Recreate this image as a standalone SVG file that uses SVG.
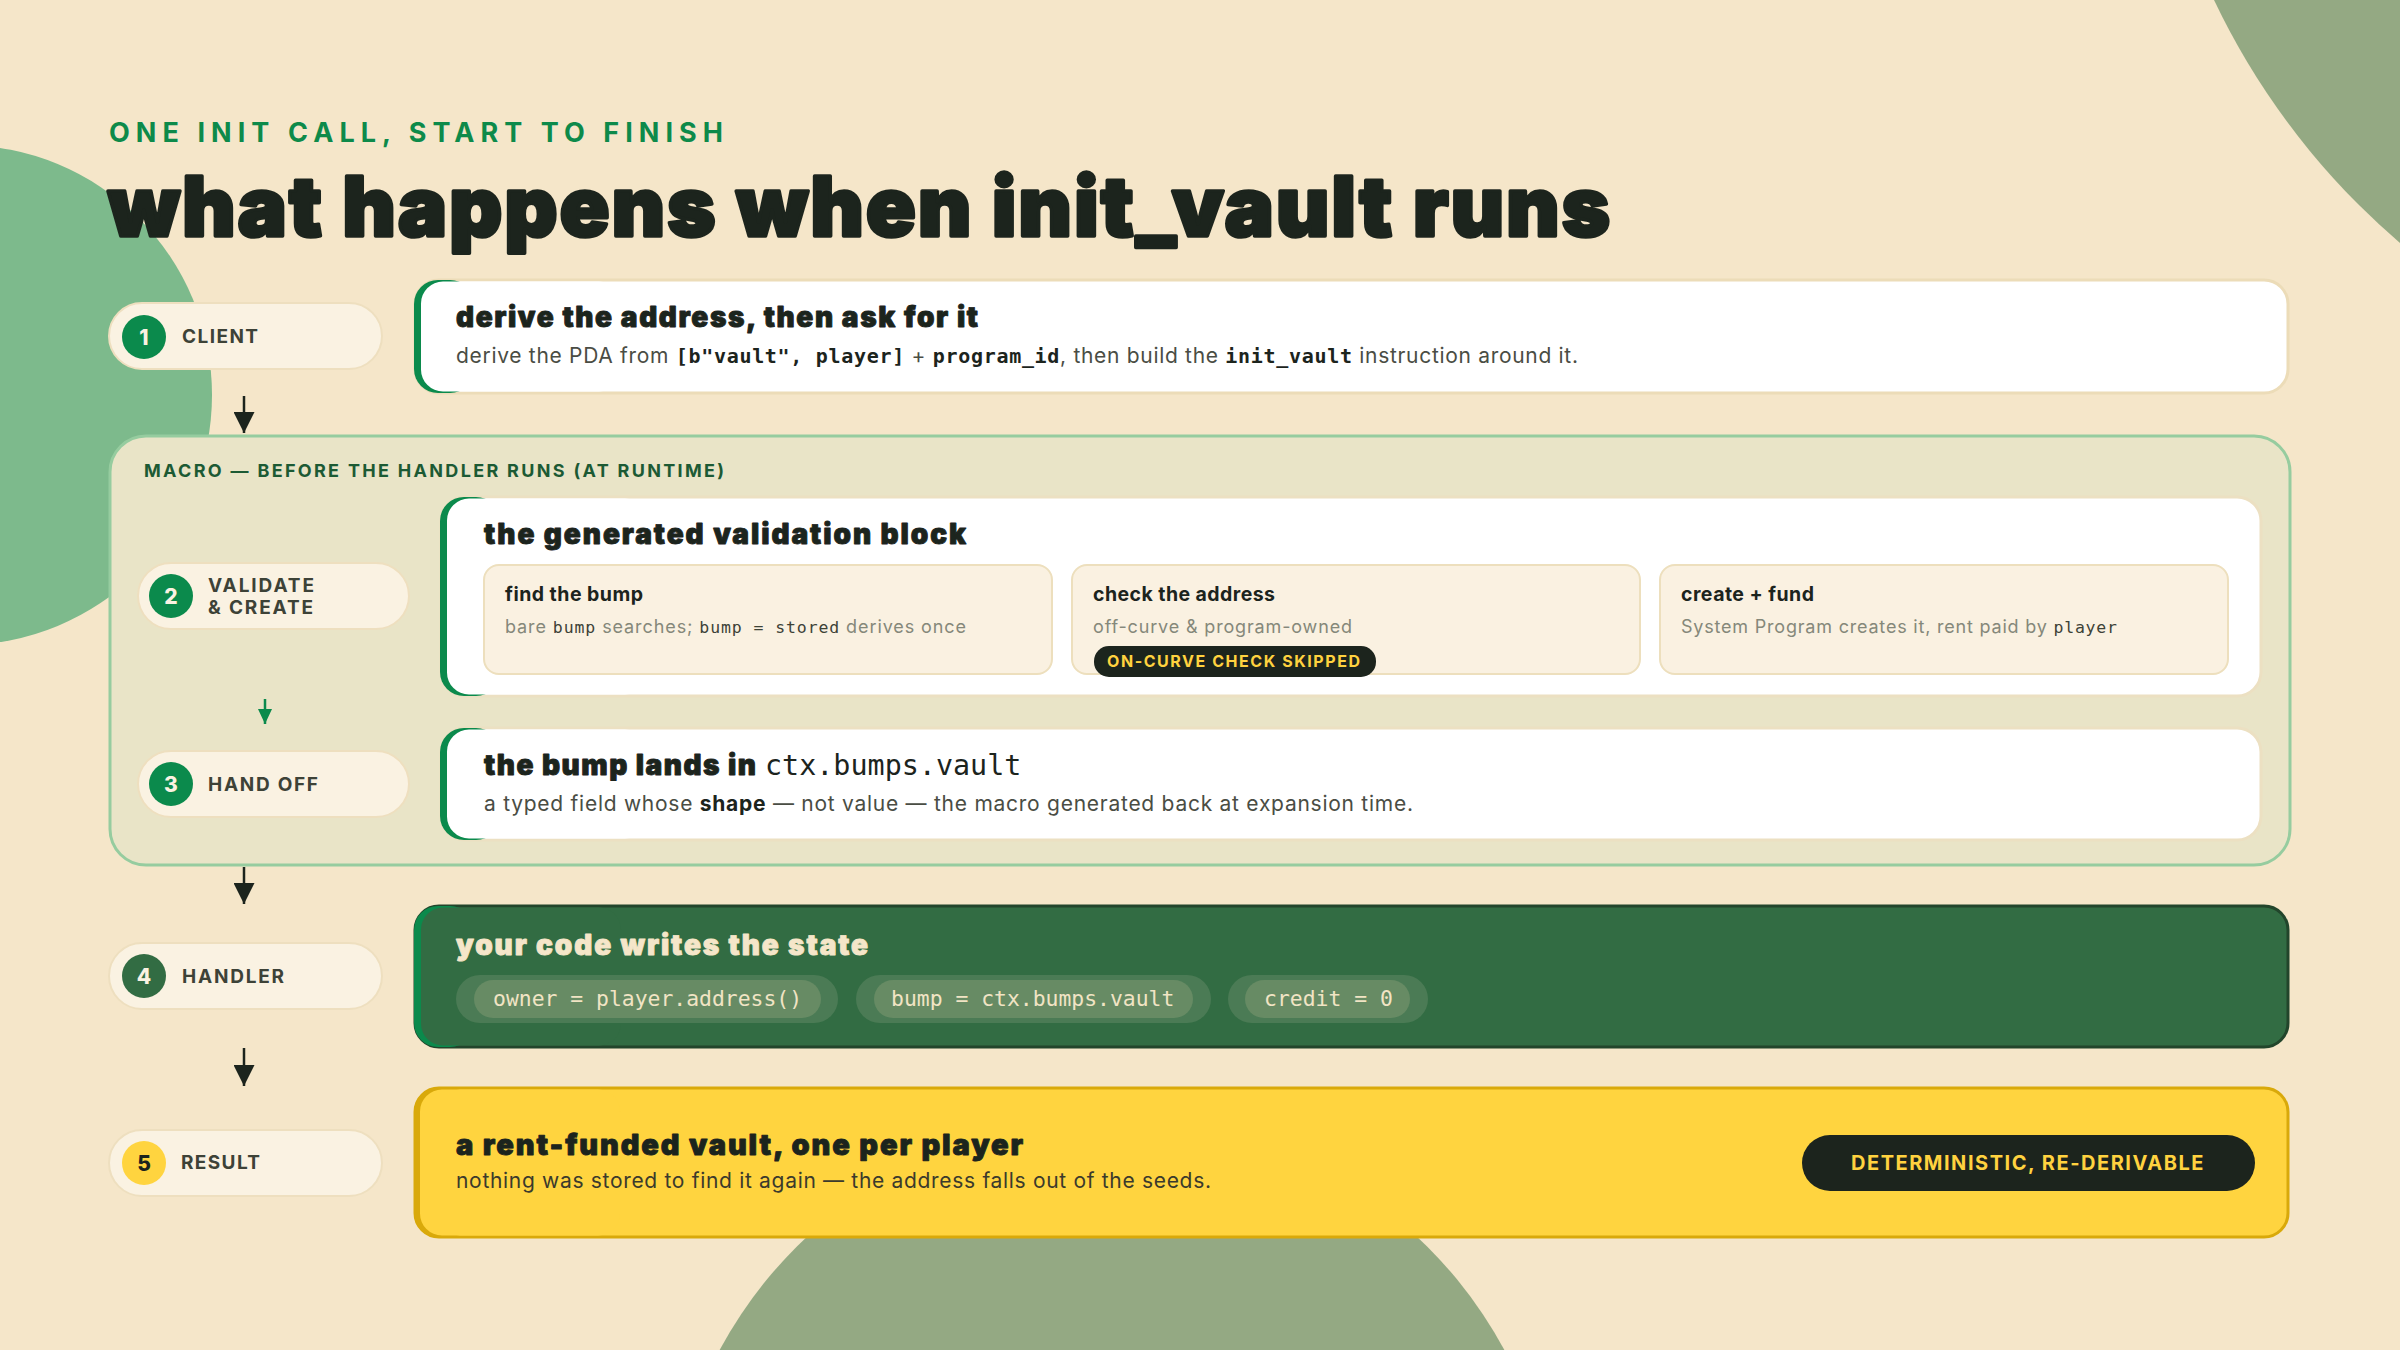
<svg xmlns="http://www.w3.org/2000/svg" width="2400" height="1350" viewBox="0 0 2400 1350">
<defs>
<style>
.sans{font-family:Inter,"Liberation Sans",sans-serif}
.mono{font-family:"DejaVu Sans Mono","Liberation Mono",monospace}
.h{font-family:Inter,"Liberation Sans",sans-serif;font-weight:900;fill:#1c241d;stroke:#1c241d;stroke-width:0.9px;stroke-linejoin:round}
.pilltxt{font-family:Inter,"Liberation Sans",sans-serif;font-weight:700;font-size:19px;letter-spacing:3px;fill:#3d4237}
.pill{fill:#faf2e2;stroke:#eedfbf;stroke-width:2}
.num{font-family:Inter,"Liberation Sans",sans-serif;font-weight:800;font-size:21px;text-anchor:middle}
.sub{fill:#faf1e1;stroke:#eddfbd;stroke-width:2}
.subh{font-family:Inter,"Liberation Sans",sans-serif;font-weight:700;font-size:19.5px;fill:#1c241d}
.subt{font-family:Inter,"Liberation Sans",sans-serif;font-size:18px;fill:#85887a}
.subm{font-family:"DejaVu Sans Mono","Liberation Mono",monospace;font-size:16.5px;fill:#3d4237}
.body{font-family:Inter,"Liberation Sans",sans-serif;font-size:21px;fill:#4a4d44}
.cm{font-family:"DejaVu Sans Mono","Liberation Mono",monospace;font-weight:700;font-size:20px;fill:#1c241d}
.code{font-family:"DejaVu Sans Mono","Liberation Mono",monospace;font-size:21.4px;fill:#f1e4c4}
.conn{stroke:#1c241d;stroke-width:2.5;fill:none}
</style>
<marker id="ah" viewBox="0 0 21 21" refX="21" refY="10.5" markerWidth="21" markerHeight="21" markerUnits="userSpaceOnUse" orient="auto">
<path d="M0,0 L21,10.5 L0,21 z" fill="#1c241d"/>
</marker>
<marker id="ahg" viewBox="0 0 15 14" refX="15" refY="7" markerWidth="15" markerHeight="14" markerUnits="userSpaceOnUse" orient="auto">
<path d="M0,0 L15,7 L0,14 z" fill="#0b8a4c"/>
</marker>
</defs>

<rect width="2400" height="1350" fill="#f5e6c9"/>
<g id="decor">
<circle cx="-38" cy="395" r="250" fill="#7dba8c"/>
<circle cx="2877" cy="-315" r="734" fill="#94a983"/>
<circle cx="1112" cy="1562" r="446" fill="#94a983"/>
</g>

<g id="heading">
<text x="109" y="142" class="sans" font-weight="700" font-size="27" letter-spacing="4" fill="#0d8a4a" textLength="618">ONE INIT CALL, START TO FINISH</text>
<text x="108" y="236" class="h" font-size="82" style="stroke-width:3.5px" textLength="1502">what happens when init_vault runs</text>
</g>

<g id="macro-group">
<rect x="110" y="436" width="2180" height="429" rx="36" fill="#e9e4c7" stroke="#96cc9f" stroke-width="3"/>
<text x="144" y="477" class="sans" font-weight="700" font-size="18" letter-spacing="2" fill="#1c5a34" textLength="582">MACRO — BEFORE THE HANDLER RUNS (AT RUNTIME)</text>
</g>

<g id="connectors">
<line class="conn" x1="244" y1="396" x2="244" y2="433" marker-end="url(#ah)"/>
<line x1="265" y1="699" x2="265" y2="724" stroke="#0b8a4c" stroke-width="2.5" marker-end="url(#ahg)"/>
<line class="conn" x1="244" y1="867" x2="244" y2="904" marker-end="url(#ah)"/>
<line class="conn" x1="244" y1="1048" x2="244" y2="1086" marker-end="url(#ah)"/>
</g>

<g id="step1-client">
<rect class="pill" x="109" y="303" width="273" height="66" rx="33"/>
<circle cx="144" cy="337" r="22" fill="#0b8a4c"/>
<text x="144" y="344.5" class="num" fill="#faf2e2">1</text>
<text x="182" y="343" class="pilltxt" textLength="79">CLIENT</text>
</g>

<g id="card1">
<rect x="415" y="280" width="1873" height="113" rx="24" fill="#ffffff" stroke="#ecdcb8" stroke-width="3"/>
<rect x="414" y="280" width="60" height="113" rx="24" fill="#0b8a4c"/>
<rect x="421" y="281.5" width="200" height="110" rx="22" fill="#ffffff"/>
<text x="456" y="327" class="h" font-size="28" textLength="522">derive the address, then ask for it</text>
<text x="456" y="363" class="body" textLength="1122">derive the PDA from <tspan class="cm">[b&quot;vault&quot;, player]</tspan> + <tspan class="cm">program_id</tspan>, then build the <tspan class="cm">init_vault</tspan> instruction around it.</text>
</g>

<g id="step2-validate">
<rect class="pill" x="138" y="563" width="271" height="66" rx="33"/>
<circle cx="171" cy="596" r="22" fill="#0b8a4c"/>
<text x="171" y="603.5" class="num" fill="#faf2e2">2</text>
<text x="208" y="592" class="pilltxt" textLength="109">VALIDATE</text>
<text x="208" y="614" class="pilltxt" textLength="108">&amp; CREATE</text>
</g>

<g id="card2-validation">
<rect x="441" y="497" width="1820" height="199" rx="24" fill="#ffffff" stroke="#ece0c2" stroke-width="3"/>
<rect x="440" y="497" width="60" height="199" rx="24" fill="#0b8a4c"/>
<rect x="447" y="498.5" width="200" height="196" rx="22" fill="#ffffff"/>
<text x="484" y="544" class="h" font-size="28" textLength="482">the generated validation block</text>
<g id="sub-find">
<rect class="sub" x="484" y="565" width="568" height="109" rx="15"/>
<text x="505" y="601" class="subh" textLength="138">find the bump</text>
<text x="505" y="633" class="subt" textLength="461">bare <tspan class="subm">bump</tspan> searches; <tspan class="subm">bump = stored</tspan> derives once</text>
</g>
<g id="sub-check">
<rect class="sub" x="1072" y="565" width="568" height="109" rx="15"/>
<text x="1093" y="601" class="subh" textLength="182">check the address</text>
<text x="1093" y="633" class="subt" textLength="259">off-curve &amp; program-owned</text>
<rect x="1094" y="646" width="282" height="31" rx="15" fill="#1c241d"/>
<text x="1107" y="667" class="sans" font-weight="700" font-size="16" letter-spacing="1" fill="#ffd23f" textLength="254">ON-CURVE CHECK SKIPPED</text>
</g>
<g id="sub-create">
<rect class="sub" x="1660" y="565" width="568" height="109" rx="15"/>
<text x="1681" y="601" class="subh" textLength="133">create + fund</text>
<text x="1681" y="633" class="subt" textLength="436">System Program creates it, rent paid by <tspan class="subm">player</tspan></text>
</g>
</g>

<g id="step3-handoff">
<rect class="pill" x="138" y="751" width="271" height="66" rx="33"/>
<circle cx="171" cy="784" r="22" fill="#0b8a4c"/>
<text x="171" y="791.5" class="num" fill="#faf2e2">3</text>
<text x="208" y="791" class="pilltxt" textLength="113">HAND OFF</text>
</g>

<g id="card3-handoff">
<rect x="441" y="728" width="1820" height="112" rx="24" fill="#ffffff" stroke="#ece0c2" stroke-width="3"/>
<rect x="440" y="728" width="60" height="112" rx="24" fill="#0b8a4c"/>
<rect x="447" y="729.5" width="200" height="109" rx="22" fill="#ffffff"/>
<text x="484" y="775" class="h" font-size="28" textLength="272">the bump lands in</text>
<text x="765" y="775" class="mono" font-size="28.4" fill="#1c241d">ctx.bumps.vault</text>
<text x="484" y="811" class="body" textLength="929">a typed field whose <tspan font-weight="700" fill="#1c241d">shape</tspan> — not value — the macro generated back at expansion time.</text>
</g>

<g id="step4-handler">
<rect class="pill" x="109" y="943" width="273" height="66" rx="33"/>
<circle cx="144" cy="976" r="22" fill="#326c43"/>
<text x="144" y="983.5" class="num" fill="#faf2e2">4</text>
<text x="182" y="983" class="pilltxt" textLength="105">HANDLER</text>
</g>

<g id="card4-handler">
<rect x="415" y="906" width="1873" height="141" rx="24" fill="#326c43" stroke="#22452b" stroke-width="3"/>
<rect x="414" y="906" width="60" height="141" rx="24" fill="#0b8a4c"/>
<rect x="421" y="907.5" width="200" height="138" rx="22" fill="#326c43"/>
<text x="456" y="955" class="h" font-size="28" style="fill:#f5e6c9;stroke:#f5e6c9" textLength="412">your code writes the state</text>
<rect x="456" y="975" width="382" height="48" rx="24" fill="#4b7b55"/>
<rect x="474" y="980" width="347" height="38" rx="19" fill="#678b64"/>
<text x="493" y="1006" class="code">owner = player.address()</text>
<rect x="856" y="975" width="355" height="48" rx="24" fill="#4b7b55"/>
<rect x="874" y="980" width="319" height="38" rx="19" fill="#678b64"/>
<text x="891" y="1006" class="code">bump = ctx.bumps.vault</text>
<rect x="1228" y="975" width="200" height="48" rx="24" fill="#4b7b55"/>
<rect x="1245" y="980" width="165" height="38" rx="19" fill="#678b64"/>
<text x="1264" y="1006" class="code">credit = 0</text>
</g>

<g id="step5-result">
<rect class="pill" x="109" y="1130" width="273" height="66" rx="33"/>
<circle cx="144" cy="1163" r="22" fill="#ffd43f"/>
<text x="144" y="1170.5" class="num" fill="#1c241d">5</text>
<text x="181" y="1169" class="pilltxt" textLength="82">RESULT</text>
</g>

<g id="card5-result">
<rect x="415" y="1088" width="1873" height="149" rx="24" fill="#ffd43f" stroke="#d9a90a" stroke-width="3"/>
<rect x="414" y="1088" width="60" height="149" rx="24" fill="#d9a90a"/>
<rect x="420" y="1089.5" width="200" height="146" rx="22" fill="#ffd43f"/>
<text x="456" y="1155" class="h" font-size="29" textLength="567">a rent-funded vault, one per player</text>
<text x="456" y="1188" class="body" style="fill:#3b3a2c" textLength="755">nothing was stored to find it again — the address falls out of the seeds.</text>
<rect x="1802" y="1135" width="453" height="56" rx="28" fill="#1c241d"/>
<text x="1851" y="1170" class="sans" font-weight="700" font-size="20" letter-spacing="2.5" fill="#ffd23f" textLength="355">DETERMINISTIC, RE-DERIVABLE</text>
</g>
</svg>
